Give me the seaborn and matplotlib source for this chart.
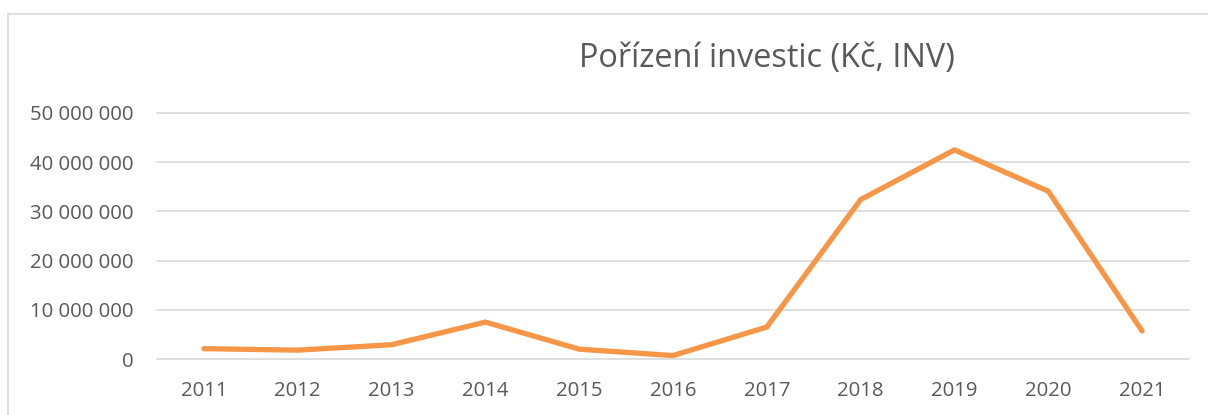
import matplotlib
matplotlib.use("Agg")
import matplotlib.pyplot as plt
from matplotlib.lines import Line2D
import seaborn as sns
import pandas as pd

years = [2011, 2012, 2013, 2014, 2015, 2016, 2017, 2018, 2019, 2020, 2021]
values = [2_100_000, 1_800_000, 2_900_000, 7_500_000, 2_000_000, 700_000,
          6_500_000, 32_400_000, 42_500_000, 34_100_000, 5_700_000]
yticks = [0, 10_000_000, 20_000_000, 30_000_000, 40_000_000, 50_000_000]
title = "Pořízení investic (Kč, INV)"

sns.set_theme(style="white")
plt.rcParams['font.family'] = ['Open Sans', 'DejaVu Sans']

W, H = 1208, 415
fig = plt.figure(figsize=(W / 100, H / 100), dpi=100)
ax = fig.add_axes([157 / W, (H - 359) / H, (1189 - 157) / W, (359 - 113) / H])

df = pd.DataFrame({"year": years, "value": values})
sns.lineplot(data=df, x="year", y="value", ax=ax, color="#F79646",
             linewidth=3.8, solid_capstyle="round", solid_joinstyle="miter", zorder=3)

ax.set_xlim(years[0] - 0.5, years[-1] + 0.5)
ax.set_ylim(0, 50_000_000)
ax.set_xticks(years)
ax.set_xticklabels([str(y) for y in years])
ax.set_yticks(yticks)
ax.set_yticklabels([f"{v:,}".replace(",", " ") for v in yticks])
ax.set_xlabel("")
ax.set_ylabel("")
for s in ax.spines.values():
    s.set_visible(False)
ax.yaxis.grid(True, color="#D9D9D9", linewidth=1.2, clip_on=False)
ax.xaxis.grid(False)
ax.tick_params(axis="both", length=0, labelsize=14.7, labelcolor="#595959")
ax.tick_params(axis="y", pad=17)
ax.tick_params(axis="x", pad=16)
for lbl in ax.get_yticklabels():
    lbl.set_clip_on(False)

fig.text(767 / W, 1 - 58 / H, title, ha="center", va="center",
         fontsize=23.4, color="#595959")

fig.add_artist(Line2D([8 / W, 1.0], [1 - 14 / H, 1 - 14 / H], color="#D9D9D9", linewidth=1.2))
fig.add_artist(Line2D([8 / W, 8 / W], [0, 1 - 14 / H], color="#D9D9D9", linewidth=1.2))

fig.savefig("out.png", dpi=100, facecolor="white")
